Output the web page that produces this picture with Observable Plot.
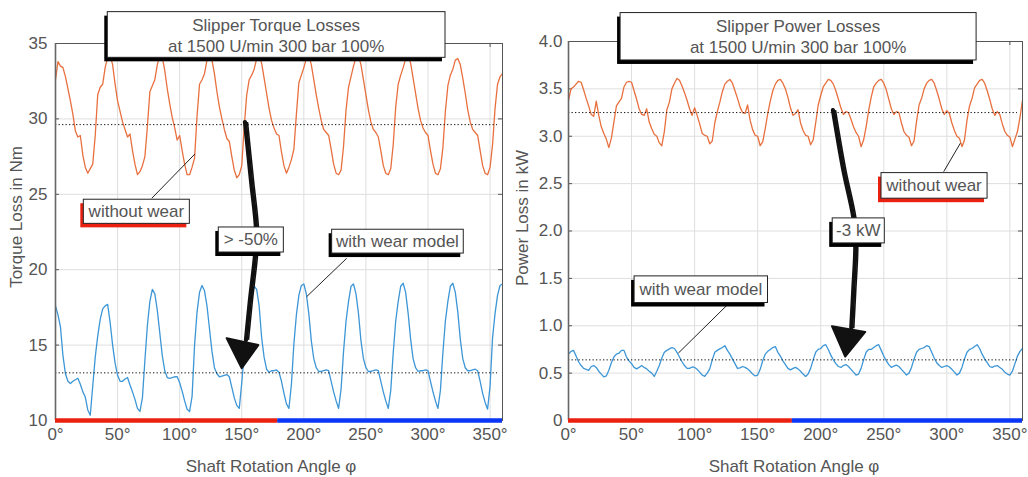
<!DOCTYPE html>
<html><head><meta charset="utf-8">
<script src="https://cdn.jsdelivr.net/npm/d3@7"></script>
<script src="https://cdn.jsdelivr.net/npm/@observablehq/plot@0.6"></script>
<style>
html,body{margin:0;padding:0;background:#fff;}
#wrap{display:flex;width:1028px;height:477px;overflow:hidden;}
svg{display:block;}
</style></head><body><div id="wrap"></div>
<script>
// ---------- data ----------
const angles = d3.range(0, 361, 2); // shaft angle samples (deg)
const xTicks = [0, 50, 100, 150, 200, 250, 300, 350];
const torqueTicks = [10, 15, 20, 25, 30, 35];
const powerTicks = [0, 0.5, 1.0, 1.5, 2.0, 2.5, 3.0, 3.5, 4.0];

const torqueWithoutWear = [
32.6,33.8,33.5,33.4,32.8,32.0,31.2,30.3,29.2,28.8,28.9,27.6,26.8,26.4,26.7,27.0,28.9,31.6,32.1,32.3,
33.4,34.1,34.2,33.6,32.3,31.2,30.5,29.8,29.3,28.8,29.0,27.9,27.0,26.3,26.5,26.9,27.5,29.5,31.8,32.2,
32.6,33.6,34.2,34.1,33.2,32.0,31.0,30.1,29.4,28.6,28.9,27.9,27.0,26.3,26.3,26.8,27.4,30.2,32.3,32.6,
33.0,33.9,34.2,33.9,33.0,31.8,30.8,30.0,29.3,28.7,28.5,27.5,26.6,26.1,26.3,26.9,29.5,31.6,32.6,32.9,
33.3,34.0,34.2,33.7,32.7,31.7,30.7,29.9,29.4,29.0,28.9,27.8,26.9,26.4,26.8,27.3,28.0,30.3,32.4,32.9,
33.4,34.0,34.2,33.6,32.6,31.6,30.7,29.9,29.3,29.1,28.9,28.0,27.0,26.4,26.3,26.6,28.2,30.6,32.1,32.8,
33.5,34.1,34.2,33.6,32.6,31.6,30.6,29.8,29.3,29.1,28.8,27.9,26.9,26.4,26.3,26.7,28.3,30.8,32.3,32.9,
33.4,34.0,34.2,33.7,32.7,31.7,30.7,29.9,29.4,29.1,28.9,27.9,27.0,26.4,26.3,26.7,28.1,30.5,32.2,32.9,
33.3,33.9,34.0,33.6,32.7,31.7,30.6,29.8,29.3,29.1,28.9,27.9,26.9,26.4,26.3,26.8,28.3,30.7,32.3,32.8,
33.0];

const torqueWithWear = [
17.6,17.0,16.2,14.3,13.1,12.6,12.45,12.6,12.7,12.8,12.4,11.9,11.55,10.7,10.35,12.3,14.2,15.6,16.7,17.4,
17.6,17.7,16.5,15.0,13.8,13.0,12.6,12.6,12.75,12.85,12.35,11.9,11.4,10.8,10.6,11.5,14.0,16.3,17.9,18.7,
18.4,17.3,15.8,14.3,13.3,12.85,12.8,12.85,12.9,12.9,12.5,11.95,11.3,10.75,10.6,11.6,15.0,17.2,18.5,18.95,
18.6,17.6,16.1,14.6,13.5,13.1,12.9,12.95,13.0,13.05,12.9,12.2,11.5,11.0,10.8,12.5,14.4,15.7,17.2,18.2,
18.9,18.7,17.6,15.5,14.2,13.4,13.2,13.3,13.3,13.35,13.2,12.6,11.8,11.1,10.8,12.4,15.1,17.0,18.3,18.95,
19.05,18.4,17.1,15.3,14.1,13.5,13.25,13.25,13.3,13.35,13.3,12.6,11.9,11.3,10.8,12.1,14.6,16.6,17.9,18.9,
19.05,18.4,17.1,15.3,14.1,13.5,13.25,13.25,13.3,13.35,13.3,12.6,11.9,11.3,10.8,12.0,14.5,16.6,17.9,18.9,
19.1,18.5,17.1,15.4,14.1,13.5,13.25,13.3,13.3,13.35,13.3,12.6,11.9,11.3,10.8,12.0,14.5,16.6,17.9,18.9,
19.1,18.5,17.2,15.4,14.1,13.5,13.3,13.3,13.35,13.4,13.3,12.6,11.8,11.2,10.75,12.3,15.5,17.1,18.3,18.95,
19.05];

const powerWithoutWear = [
3.38,3.50,3.52,3.55,3.58,3.57,3.49,3.40,3.32,3.23,3.21,3.37,3.22,3.10,3.03,2.97,2.88,2.98,3.15,3.32,
3.36,3.40,3.52,3.57,3.58,3.57,3.48,3.39,3.29,3.23,3.22,3.29,3.15,3.08,3.02,3.00,2.93,2.90,3.05,3.28,
3.36,3.50,3.56,3.61,3.59,3.53,3.46,3.38,3.29,3.22,3.30,3.22,3.13,3.03,3.01,3.00,2.92,2.95,3.14,3.26,
3.36,3.47,3.55,3.58,3.60,3.56,3.48,3.40,3.31,3.25,3.24,3.33,3.17,3.07,3.01,3.00,2.90,2.94,3.08,3.24,
3.37,3.48,3.55,3.59,3.60,3.56,3.50,3.41,3.30,3.22,3.24,3.28,3.14,3.06,3.01,3.00,2.91,2.96,3.14,3.33,
3.43,3.52,3.56,3.60,3.59,3.55,3.48,3.39,3.30,3.23,3.26,3.25,3.18,3.10,3.04,3.00,2.89,2.96,3.10,3.27,
3.41,3.52,3.56,3.59,3.60,3.56,3.49,3.39,3.29,3.23,3.26,3.25,3.14,3.05,3.01,2.99,2.90,2.95,3.16,3.33,
3.40,3.50,3.56,3.59,3.60,3.56,3.48,3.39,3.29,3.23,3.27,3.24,3.14,3.06,3.00,2.98,2.89,2.96,3.17,3.32,
3.40,3.51,3.55,3.59,3.60,3.56,3.48,3.39,3.29,3.22,3.26,3.23,3.13,3.05,3.01,2.99,2.89,2.97,3.05,3.20,
3.38];

const powerWithWear = [
0.70,0.73,0.74,0.68,0.62,0.58,0.55,0.54,0.53,0.57,0.58,0.56,0.52,0.49,0.46,0.47,0.53,0.61,0.67,0.70,
0.71,0.74,0.74,0.67,0.63,0.60,0.56,0.545,0.56,0.58,0.56,0.545,0.52,0.50,0.465,0.52,0.58,0.66,0.72,0.74,
0.756,0.77,0.76,0.72,0.67,0.62,0.58,0.55,0.55,0.565,0.56,0.54,0.51,0.48,0.465,0.50,0.545,0.64,0.72,0.74,
0.756,0.77,0.79,0.74,0.70,0.65,0.60,0.55,0.555,0.57,0.56,0.545,0.52,0.49,0.47,0.48,0.54,0.63,0.70,0.73,
0.75,0.77,0.78,0.72,0.68,0.63,0.59,0.55,0.535,0.55,0.56,0.545,0.52,0.49,0.465,0.49,0.55,0.64,0.72,0.75,
0.76,0.79,0.80,0.75,0.69,0.64,0.60,0.57,0.56,0.58,0.59,0.57,0.54,0.51,0.48,0.49,0.55,0.64,0.72,0.75,
0.75,0.77,0.79,0.80,0.74,0.68,0.63,0.59,0.56,0.575,0.585,0.57,0.54,0.51,0.48,0.50,0.56,0.65,0.72,0.75,
0.76,0.77,0.79,0.78,0.72,0.66,0.61,0.58,0.56,0.57,0.58,0.565,0.54,0.51,0.48,0.50,0.56,0.65,0.72,0.75,
0.76,0.78,0.80,0.76,0.70,0.65,0.61,0.57,0.56,0.575,0.58,0.56,0.54,0.51,0.49,0.48,0.52,0.60,0.68,0.73,
0.76];

const torqueMeans = [29.62, 13.16];
const powerMeans = [3.25, 0.64];
const torquePhaseSplit = [0, 179, 360];   // red / blue bar segments
const powerPhaseSplit = [0, 177.5, 360];

// ---------- style ----------
const FONT = "'Liberation Sans', Arial, Helvetica, sans-serif";
const TXT = "#555";
const ORANGE = "#e8703f";
const BLUE = "#3d96d6";
const RED = "#ea2010";
const PHASEBLUE = "#0a36f5";

function rows(arr) { return angles.map((a, i) => ({angle: a, value: arr[i]})); }

function panel(cfg) {
  const [ymin, ymax] = cfg.yDomain;
  const tickLenY = (ymax - ymin) * 4 / (477 - cfg.mt - 57);
  const segs = [
    {x1: cfg.split[0], x2: cfg.split[1], c: RED},
    {x1: cfg.split[1], x2: cfg.split[2], c: PHASEBLUE}
  ];
  const svg = Plot.plot({
    width: 514, height: 477,
    marginLeft: cfg.ml, marginRight: cfg.mr, marginTop: cfg.mt, marginBottom: 57,
    style: {fontFamily: FONT, fontSize: "17px", color: TXT, background: "#fff", overflow: "visible"},
    x: {domain: [0, 360]},
    y: {domain: cfg.yDomain},
    marks: [
      Plot.gridX(xTicks, {stroke: "#dedede", strokeOpacity: 1}),
      Plot.gridY(cfg.yTicks, {stroke: "#dedede", strokeOpacity: 1}),
      Plot.ruleY(cfg.yTicks, {x1: 0, x2: 3.2, stroke: "#555"}),
      Plot.ruleY(cfg.yTicks, {x1: 356.8, x2: 360, stroke: "#555"}),
      Plot.ruleX(xTicks, {y1: ymax, y2: ymax - tickLenY, stroke: "#555"}),
      Plot.line(rows(cfg.without), {x: "angle", y: "value", stroke: ORANGE, strokeWidth: 1.3}),
      Plot.line(rows(cfg.withW), {x: "angle", y: "value", stroke: BLUE, strokeWidth: 1.3}),
      Plot.ruleY(cfg.means, {x1: 0, x2: 356, stroke: "#111", strokeWidth: 1, strokeDasharray: "1.3 2.2"}),
      Plot.frame({stroke: "#555"}),
      Plot.ruleX([0], {stroke: "#666", strokeWidth: 1.6}),
      Plot.ruleY(segs, {y: ymin, x1: "x1", x2: "x2", stroke: "c", strokeWidth: 4.5}),
      Plot.axisX(xTicks, {tickSize: 0, tickPadding: 7, tickFormat: d => d + "°", fontSize: 17, label: null}),
      Plot.axisY(cfg.yTicks, {tickSize: 0, tickPadding: cfg.tp, tickFormat: cfg.fmt, fontSize: 17, label: null})
    ]
  });
  overlay(svg, cfg);
  return svg;
}

function overlay(svg, cfg) {
  const sx = svg.scale("x"), sy = svg.scale("y");
  const X = v => sx.apply(v), Y = v => sy.apply(v);
  const g = d3.select(svg).append("g").attr("font-family", FONT);
  const a = cfg.ann;
  // hand-drawn arrow
  const ln = d3.line().x(d => X(d[0])).y(d => Y(d[1])).curve(d3.curveCatmullRom);
  g.append("path").attr("d", ln(a.shaft)).attr("fill", "none").attr("stroke", "#111")
    .attr("stroke-width", 4.2).attr("stroke-linecap", "round");
  g.append("path").attr("d", ln(a.shaft)).attr("fill", "none").attr("stroke", "#111")
    .attr("stroke-width", 1.6).attr("transform", "translate(2.5,0)");
  g.append("polygon").attr("points", a.head.map(p => X(p[0]) + "," + Y(p[1])).join(" "))
    .attr("fill", "#111").attr("stroke", "#111").attr("stroke-width", 2).attr("stroke-linejoin", "round");
  // leader lines
  for (const l of a.leaders) {
    g.append("line").attr("x1", X(l[0])).attr("y1", Y(l[1])).attr("x2", X(l[2])).attr("y2", Y(l[3]))
      .attr("stroke", "#222").attr("stroke-width", 1);
  }
  // boxes
  for (const b of a.boxes) {
    const x1 = X(b.x1), x2 = X(b.x2), y1 = Y(b.y1), y2 = Y(b.y2);
    g.append("rect").attr("x", x1 - 3).attr("y", y1 + 4).attr("width", x2 - x1).attr("height", y2 - y1)
      .attr("fill", b.shadow);
    g.append("rect").attr("x", x1).attr("y", y1).attr("width", x2 - x1).attr("height", y2 - y1)
      .attr("fill", "#fff").attr("stroke", "#222").attr("stroke-width", 1);
    b.lines.forEach((t, i) => {
      g.append("text").attr("x", (x1 + x2) / 2)
        .attr("y", b.lines.length > 1 ? y1 + 19.5 + i * 21 : (y1 + y2) / 2 + 6)
        .attr("text-anchor", "middle").attr("fill", TXT).attr("font-size", 17).text(t);
    });
  }
  // axis titles
  g.append("text").attr("transform", `translate(${cfg.yLabelX},${cfg.yLabelY}) rotate(-90)`)
    .attr("text-anchor", "middle").attr("dy", "0.35em").attr("fill", TXT).attr("font-size", 17).text(cfg.yLabel);
  g.append("text").attr("x", cfg.xLabelX).attr("y", 472).attr("text-anchor", "middle")
    .attr("fill", TXT).attr("font-size", 17).text("Shaft Rotation Angle φ");
}

const wrap = document.getElementById("wrap");

wrap.appendChild(panel({
  ml: 55, mr: 12, mt: 43, tp: 8,
  yDomain: [10, 35], yTicks: torqueTicks, fmt: d => String(d),
  without: torqueWithoutWear, withW: torqueWithWear, means: torqueMeans, split: torquePhaseSplit,
  yLabel: "Torque Loss in Nm", yLabelX: 16.5, yLabelY: 217, xLabelX: 271,
  ann: {
    shaft: [[153.0,29.76],[157.8,25.92],[161.9,22.6],[161.1,20.94],[157.0,17.96],[153.8,15.31]],
    head: [[138.3,15.42],[163.7,14.97],[150.4,13.43]],
    leaders: [[77.9,24.70,112.7,27.64],[234.9,20.72,202.7,18.18]],
    boxes: [
      {x1: 42.1, x2: 314.1, y1: 37.08, y2: 34.05, shadow: "#000",
       lines: ["Slipper Torque Losses", "at 1500 U/min 300 bar 100%"]},
      {x1: 22.8, x2: 108.2, y1: 24.64, y2: 23.04, shadow: RED, lines: ["without wear"]},
      {x1: 131.5, x2: 183.9, y1: 22.80, y2: 21.14, shadow: "#000", lines: ["> -50%"]},
      {x1: 222.8, x2: 328.8, y1: 22.65, y2: 21.07, shadow: "#000", lines: ["with wear model"]}
    ]
  }
}));

wrap.appendChild(panel({
  ml: 54, mr: 6, mt: 41, tp: 6,
  yDomain: [0, 4], yTicks: powerTicks, fmt: d => d === 0 ? "0" : d.toFixed(1),
  without: powerWithoutWear, withW: powerWithWear, means: powerMeans, split: powerPhaseSplit,
  yLabel: "Power Loss in kW", yLabelX: 8, yLabelY: 218, xLabelX: 280,
  ann: {
    shaft: [[210.1,3.27],[218.3,2.64],[226.2,2.14],[227.8,1.85],[226.2,1.37],[224.6,0.97]],
    head: [[209.3,0.99],[235.7,0.93],[219.8,0.67]],
    leaders: [[297.9,2.621,311.1,2.921],[127.2,1.226,87.5,0.706]],
    boxes: [
      {x1: 41.3, x2: 323.6, y1: 4.30, y2: 3.80, shadow: "#000",
       lines: ["Slipper Power Losses", "at 1500 U/min 300 bar 100%"]},
      {x1: 248.2, x2: 332.3, y1: 2.611, y2: 2.341, shadow: RED, lines: ["without wear"]},
      {x1: 209.5, x2: 250.8, y1: 2.133, y2: 1.869, shadow: "#000", lines: ["-3 kW"]},
      {x1: 52.4, x2: 158.2, y1: 1.521, y2: 1.24, shadow: "#000", lines: ["with wear model"]}
    ]
  }
}));
</script>
</body></html>
